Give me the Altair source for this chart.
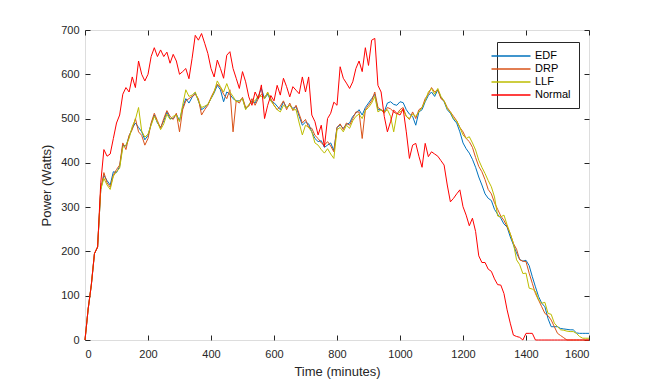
import altair as alt
import pandas as pd

minutes = list(range(0, 1610, 10))

series_names = ["EDF", "DRP", "LLF", "Normal"]
series_colors = ["#0072BD", "#D95319", "#BDBD00", "#FF0000"]

edf = [
    0, 70, 124, 195, 210, 340, 372, 360, 350, 380,
    378, 392, 440, 438, 460, 478, 490, 480, 470, 452,
    462, 488, 508, 490, 480, 495, 515, 500, 500, 510,
    495, 525, 545, 535, 548, 558, 540, 520, 525, 532,
    545, 558, 575, 565, 538, 560, 555, 545, 540, 540,
    545, 522, 530, 540, 535, 550, 568, 545, 555, 540,
    536, 528, 520, 538, 525, 530, 523, 527, 505, 485,
    492, 488, 470, 455, 448, 450, 435, 440, 445, 428,
    480, 485, 478, 487, 490, 505, 512, 520, 508, 525,
    535, 545, 555, 520, 520, 515, 535, 538, 532, 530,
    538, 536, 520, 510, 505, 485, 515, 520, 538, 552,
    560, 550, 565, 548, 538, 520, 512, 498, 490, 470,
    445, 432, 422, 408, 390, 368, 350, 330, 320, 315,
    295, 284, 275, 262, 255, 233, 215, 196, 182, 178,
    180, 168, 143, 120, 98, 83, 75, 48, 30, 30,
    30, 26, 25, 24, 23, 23, 16, 15, 15, 15,
    15,
]

drp = [
    0, 70, 124, 195, 210, 340, 378, 355, 345, 372,
    385, 395, 445, 430, 462, 475, 500, 470, 462, 440,
    455, 490, 512, 495, 478, 500, 518, 505, 498, 512,
    470, 520, 540, 545, 550, 555, 545, 508, 520, 530,
    548, 562, 578, 570, 555, 545, 565, 470, 540, 535,
    548, 525, 528, 545, 530, 545, 555, 548, 558, 545,
    530, 520, 528, 540, 520, 535, 518, 530, 510, 490,
    498, 480, 478, 462, 455, 445, 440, 448, 438, 425,
    480, 488, 475, 490, 485, 500, 515, 515, 455, 520,
    530, 540, 560, 525, 520, 512, 525, 522, 515, 510,
    520, 525, 505, 498, 515, 500, 520, 525, 545, 555,
    570, 560, 565, 545, 540, 525, 515, 505, 495, 480,
    470, 455, 448, 435, 412, 392, 380, 362, 340, 330,
    310, 295, 280, 270, 256, 240, 218, 205, 181, 178,
    177, 151, 128, 105, 90, 75, 60, 55, 45, 30,
    15, 10, 5, 0, 0, 0, 0, 0, 0, 0,
    0,
]

llf = [
    0, 70, 124, 195, 210, 340, 365, 350, 340, 370,
    380, 388, 435, 440, 455, 482, 498, 525, 472, 458,
    465, 485, 505, 492, 475, 488, 510, 498, 505, 508,
    493, 530, 565, 550, 553, 560, 540, 525, 528, 532,
    545, 560, 585, 572, 560, 579, 560, 550, 538, 540,
    545, 520, 532, 538, 540, 552, 550, 545, 560, 540,
    530, 520, 515, 530, 525, 530, 520, 520, 490, 463,
    485, 480, 470, 445, 440, 430, 422, 432, 420, 410,
    475, 480, 470, 485, 478, 495, 505, 510, 500, 518,
    525, 535, 550, 515, 520, 515, 520, 505, 470, 510,
    515, 520, 505, 500, 510, 505, 515, 525, 540, 560,
    568, 555, 568, 550, 540, 522, 515, 500, 495, 480,
    463, 455, 459, 445, 429, 406, 390, 376, 360, 346,
    323, 280, 278, 282, 260, 240, 218, 181, 170, 150,
    151, 117, 115, 110, 90, 83, 85, 60, 58, 38,
    30, 23, 22, 20, 19, 19, 15, 8, 4, 4,
    4,
]

normal = [
    0, 70, 124, 195, 210, 355, 430, 415, 420, 455,
    490, 508, 555, 570, 560, 594, 570, 630, 600, 585,
    600, 640, 660, 640, 655, 640, 650, 625, 645, 630,
    600, 606, 613, 590, 636, 688, 677, 692, 670, 647,
    613, 594, 632, 613, 591, 643, 651, 613, 591, 568,
    606, 583, 549, 530, 560, 545, 576, 500, 530, 552,
    540, 575, 553, 591, 572, 549, 572, 564, 556, 594,
    560, 594, 508, 493, 463, 485, 436, 500, 512, 537,
    530, 617, 591, 580, 568, 583, 613, 630, 606, 660,
    620, 677, 681, 575, 560, 505, 470, 493, 519, 512,
    508, 522, 470, 410, 440, 444, 415, 390, 444, 414,
    425, 420, 415, 405, 395, 350, 312, 320, 330, 339,
    301, 282, 258, 275, 245, 190, 175, 175, 160, 155,
    138, 125, 124, 105, 68, 38, 11, 8, 6, 0,
    15, 15, 15, 0, 0, 0, 0, 0, 0, 0,
    0, 0, 0, 0, 0, 0, 0, 0, 0, 0,
    0,
]

x_ticks = [0, 200, 400, 600, 800, 1000, 1200, 1400, 1600]
y_ticks = [0, 100, 200, 300, 400, 500, 600, 700]

rows = []
for name, vals in zip(series_names, [edf, drp, llf, normal]):
    for m, v in zip(minutes, vals):
        rows.append({"minutes": m, "power": v, "series": name})
df = pd.DataFrame(rows)

FONT = "Liberation Sans"
AX = "#262626"

xscale = alt.Scale(domain=[0, 1600], nice=False, zero=False)
yscale = alt.Scale(domain=[0, 700], nice=False, zero=False)

common_axis = dict(grid=False, domain=False, tickSize=5, offset=-5, tickColor=AX,
                   tickWidth=1, labelFont=FONT, labelFontSize=11, labelColor=AX,
                   titleFont=FONT, titleFontSize=13, titleColor=AX, titleFontWeight="normal",
                   format="d")

lines = alt.Chart(df).mark_line(strokeWidth=1).encode(
    x=alt.X("minutes:Q", scale=xscale,
            axis=alt.Axis(orient="bottom", values=x_ticks, labelPadding=8,
                          title="Time (minutes)", titlePadding=6, **common_axis)),
    y=alt.Y("power:Q", scale=yscale,
            axis=alt.Axis(orient="left", values=y_ticks, labelPadding=6,
                          title="Power (Watts)", titlePadding=7, **common_axis)),
    color=alt.Color("series:N", sort=series_names,
                    scale=alt.Scale(domain=series_names, range=series_colors),
                    legend=alt.Legend(title=None, orient="none", legendX=412, legendY=12,
                                      strokeColor=AX, fillColor="white", padding=8,
                                      symbolType="M-4,0H4", symbolSize=95,
                                      symbolStrokeWidth=1.5, labelOffset=18,
                                      labelFont=FONT, labelFontSize=11, labelColor="black",
                                      rowPadding=2, cornerRadius=0)),
)

frame = alt.Chart(df).mark_line(opacity=0).encode(
    x=alt.X("minutes:Q", scale=xscale,
            axis=alt.Axis(orient="top", values=x_ticks, labels=False, title=None, **common_axis)),
    y=alt.Y("power:Q", scale=yscale,
            axis=alt.Axis(orient="right", values=y_ticks, labels=False, title=None, **common_axis)),
)

chart = alt.layer(lines, frame).resolve_axis(x="independent", y="independent").properties(
    width=504, height=310,
    autosize=alt.AutoSizeParams(type="none"),
    padding={"left": 77, "top": 22, "right": 50, "bottom": 40},
).configure_view(stroke=AX, strokeWidth=1).configure(background="white")

chart.save("out.html", embed_options={"renderer": "svg", "actions": False})
